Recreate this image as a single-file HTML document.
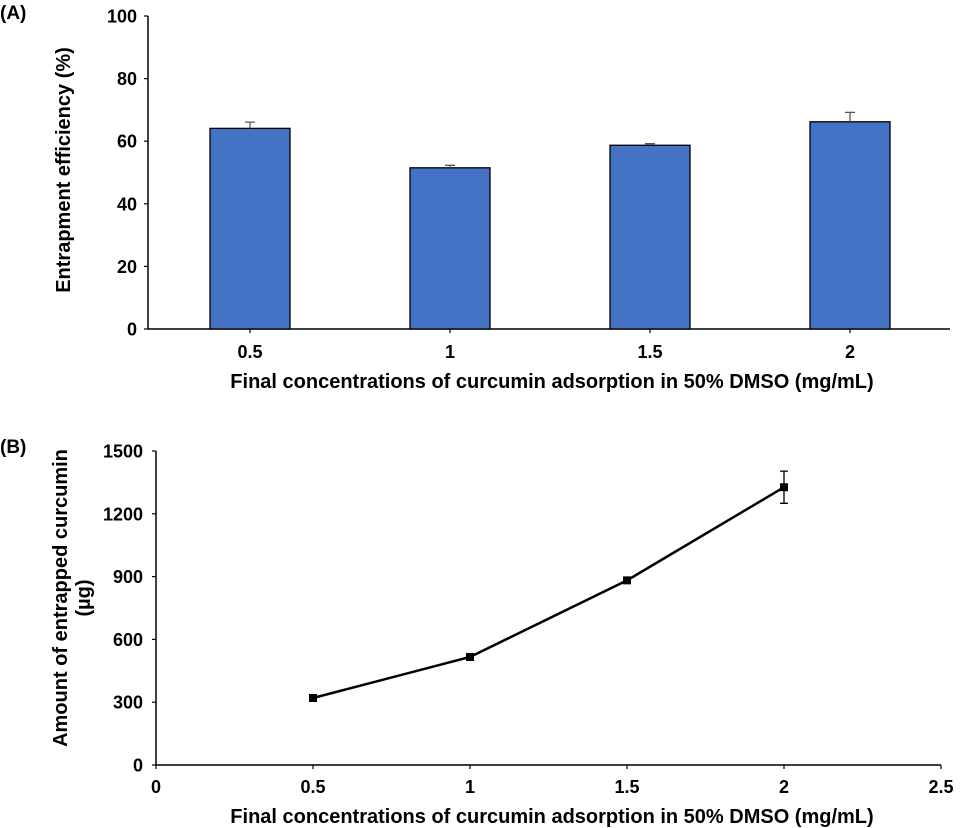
<!DOCTYPE html>
<html><head><meta charset="utf-8"><style>
html,body{margin:0;padding:0;background:#fff;}
svg{display:block;font-family:"Liberation Sans",Arial,sans-serif;font-weight:bold;}
</style></head><body>
<svg id="c" width="960" height="828" viewBox="0 0 960 828"></svg>
<script>
const catsA=["0.5","1","1.5","2"];
const valsA=[64.1,51.5,58.7,66.2];
const errA=[2.0,0.8,0.5,3.0];
const ticksA=[0,20,40,60,80,100];
const xsB=[0.5,1,1.5,2];
const valsB=[320,516,882,1327];
const errB=[12,10,10,77];
const yTicksB=[0,300,600,900,1200,1500];
const xTicksB=[0,0.5,1,1.5,2,2.5];

const NS="http://www.w3.org/2000/svg";
const svg=document.getElementById('c');
function mk(t,a,txt,p){const e=document.createElementNS(NS,t);for(const k in a)e.setAttribute(k,a[k]);if(txt!==undefined)e.textContent=txt;(p||svg).appendChild(e);return e;}

// Chart A
const yA=v=>329-v*3.13;
const xA=i=>250+i*200;
let t=mk('text',{x:0,y:19,'font-size':19},'(A)');

let l=mk('line',{x1:148,y1:16,x2:148,y2:329,stroke:'#000','stroke-width':1.5});

l=mk('line',{x1:148,y1:329,x2:950,y2:329,stroke:'#000','stroke-width':1.5});

ticksA.forEach(v=>{
  mk('line',{x1:144,y1:yA(v),x2:148,y2:yA(v),stroke:'#000','stroke-width':1.2});
  const e=mk('text',{x:137,y:yA(v)+6.5,'font-size':18,'text-anchor':'end'},String(v));
  
});
catsA.forEach((c,i)=>{
  const x=xA(i);
  mk('line',{x1:x,y1:329,x2:x,y2:333,stroke:'#000','stroke-width':1.2});
  const b=mk('rect',{x:x-40,y:yA(valsA[i]),width:80,height:329-yA(valsA[i]),fill:'#4472c4',stroke:'#000','stroke-width':1.3});
  
  const ey=yA(valsA[i]+errA[i]);
  const eb=mk('path',{d:`M${x} ${yA(valsA[i])}V${ey}M${x-5} ${ey}H${x+5}`,stroke:'#555','stroke-width':1.3,fill:'none'});
  
  const e=mk('text',{x:x,y:358,'font-size':18,'text-anchor':'middle'},c);
  
});
t=mk('text',{x:552,y:388,'font-size':20,'text-anchor':'middle'},'Final concentrations of curcumin adsorption in 50% DMSO (mg/mL)');

t=mk('text',{x:0,y:0,'font-size':20,'text-anchor':'middle',transform:'translate(70,170) rotate(-90)'},'Entrapment efficiency (%)');


// Chart B
const yB=v=>765-v*(314/1500);
const xB=v=>156+v*314;
t=mk('text',{x:0,y:453,'font-size':19},'(B)');

l=mk('line',{x1:156,y1:451,x2:156,y2:765,stroke:'#000','stroke-width':1.5});

l=mk('line',{x1:156,y1:765,x2:941,y2:765,stroke:'#000','stroke-width':1.5});

yTicksB.forEach(v=>{
  mk('line',{x1:152,y1:yB(v),x2:156,y2:yB(v),stroke:'#000','stroke-width':1.2});
  const e=mk('text',{x:143,y:yB(v)+6.5,'font-size':18,'text-anchor':'end'},String(v));
  
});
xTicksB.forEach(v=>{
  mk('line',{x1:xB(v),y1:765,x2:xB(v),y2:769,stroke:'#000','stroke-width':1.2});
  const e=mk('text',{x:xB(v),y:793,'font-size':18,'text-anchor':'middle'},String(v));
  
});
const pl=mk('polyline',{points:xsB.map((x,i)=>xB(x)+','+yB(valsB[i])).join(' '),fill:'none',stroke:'#000','stroke-width':2.5});

xsB.forEach((x,i)=>{
  const px=xB(x),py=yB(valsB[i]),t1=yB(valsB[i]+errB[i]),t2=yB(valsB[i]-errB[i]);
  const eb=mk('path',{d:`M${px} ${t1}V${t2}M${px-4} ${t1}H${px+4}M${px-4} ${t2}H${px+4}`,stroke:'#000','stroke-width':1.3,fill:'none'});
  
  const m=mk('rect',{x:px-4,y:py-4,width:8,height:8,fill:'#000'});
  
});
t=mk('text',{x:552,y:823,'font-size':20,'text-anchor':'middle'},'Final concentrations of curcumin adsorption in 50% DMSO (mg/mL)');

t=mk('text',{x:0,y:0,'font-size':20,'text-anchor':'middle',transform:'translate(67,598) rotate(-90)'},'Amount of entrapped curcumin');

t=mk('text',{x:0,y:0,'font-size':20,'text-anchor':'middle',transform:'translate(90,598) rotate(-90)'},'(µg)');

</script>
</body></html>
